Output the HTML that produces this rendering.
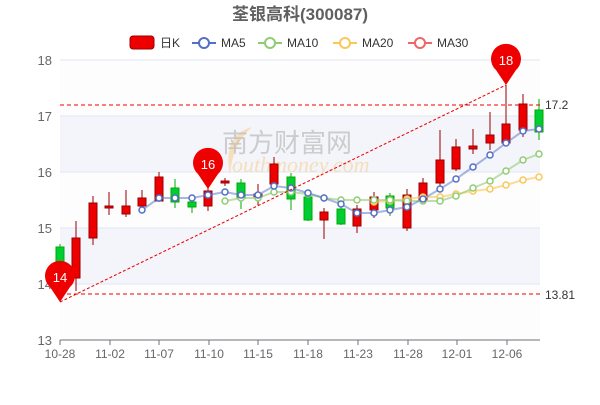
<!DOCTYPE html><html><head><meta charset="utf-8"><style>body{margin:0;background:#fff}svg{font-family:"Liberation Sans","Noto Sans CJK SC",sans-serif}</style></head><body>
<svg width="600" height="400" xmlns="http://www.w3.org/2000/svg">
<text x="300" y="20" text-anchor="middle" font-size="17" font-weight="bold" fill="#606060">荃银高科(300087)</text>
<g font-size="12" fill="#333">
<rect x="130" y="36" width="24" height="13" rx="3" fill="#e00" stroke="#900"/><text x="160" y="47">日K</text>
<line x1="192" y1="43" x2="216" y2="43" stroke="#5470c6" stroke-width="2"/><circle cx="204" cy="43" r="5" fill="#fff" stroke="#5470c6" stroke-width="2"/><text x="221" y="47">MA5</text>
<line x1="258" y1="43" x2="282" y2="43" stroke="#91cc75" stroke-width="2"/><circle cx="270" cy="43" r="5" fill="#fff" stroke="#91cc75" stroke-width="2"/><text x="287" y="47">MA10</text>
<line x1="333" y1="43" x2="357" y2="43" stroke="#fac858" stroke-width="2"/><circle cx="345" cy="43" r="5" fill="#fff" stroke="#fac858" stroke-width="2"/><text x="362" y="47">MA20</text>
<line x1="408" y1="43" x2="432" y2="43" stroke="#ee6666" stroke-width="2"/><circle cx="420" cy="43" r="5" fill="#fff" stroke="#ee6666" stroke-width="2"/><text x="437" y="47">MA30</text>
</g>
<rect x="60" y="60" width="480" height="56" fill="#fdfdfe"/><rect x="60" y="116" width="480" height="56" fill="#f4f5fa"/><rect x="60" y="172" width="480" height="56" fill="#fdfdfe"/><rect x="60" y="228" width="480" height="56" fill="#f4f5fa"/><rect x="60" y="284" width="480" height="56" fill="#fdfdfe"/>
<g stroke="#e0e6f1"><line x1="60" y1="60" x2="540" y2="60"/><line x1="60" y1="116" x2="540" y2="116"/><line x1="60" y1="172" x2="540" y2="172"/><line x1="60" y1="228" x2="540" y2="228"/><line x1="60" y1="284" x2="540" y2="284"/></g>
<line x1="60" y1="340" x2="540" y2="340" stroke="#6e7079"/>
<g font-size="13" fill="#666" text-anchor="end"><text x="52" y="65">18</text><text x="52" y="121">17</text><text x="52" y="177">16</text><text x="52" y="233">15</text><text x="52" y="289">14</text><text x="52" y="345">13</text></g>
<g font-size="12" fill="#666" text-anchor="middle"><text x="60" y="358">10-28</text><text x="110" y="358">11-02</text><text x="159" y="358">11-07</text><text x="209" y="358">11-10</text><text x="258" y="358">11-15</text><text x="308" y="358">11-18</text><text x="358" y="358">11-23</text><text x="408" y="358">11-28</text><text x="457" y="358">12-01</text><text x="507" y="358">12-06</text></g>
<g stroke="#6e7079"><line x1="60" y1="340" x2="60" y2="345"/><line x1="110" y1="340" x2="110" y2="345"/><line x1="159" y1="340" x2="159" y2="345"/><line x1="209" y1="340" x2="209" y2="345"/><line x1="258" y1="340" x2="258" y2="345"/><line x1="308" y1="340" x2="308" y2="345"/><line x1="358" y1="340" x2="358" y2="345"/><line x1="408" y1="340" x2="408" y2="345"/><line x1="457" y1="340" x2="457" y2="345"/><line x1="507" y1="340" x2="507" y2="345"/></g>
<path d="M252 127 Q222 135 230 175 Q232 145 252 127 Z" fill="#f5d9b0" opacity="0.8"/>
<text x="222" y="152" font-size="26" fill="#bbb" opacity="0.7">南方财富网</text>
<text x="232" y="172" font-size="22" font-style="italic" fill="#f5d9b0" opacity="0.8" font-family="Liberation Serif,serif">outhmoney.com</text>
<g stroke-width="1">
<line x1="60" y1="244" x2="60" y2="292" stroke="#0a0"/><rect x="56" y="247" width="8" height="38" fill="#0c3" stroke="#0a0"/>
<line x1="76" y1="221" x2="76" y2="291" stroke="#900"/><rect x="72" y="238" width="8" height="40" fill="#e00" stroke="#900"/>
<line x1="93" y1="196" x2="93" y2="245" stroke="#900"/><rect x="89" y="203" width="8" height="35" fill="#e00" stroke="#900"/>
<line x1="109" y1="192" x2="109" y2="215" stroke="#900"/><rect x="105" y="206" width="8" height="2" fill="#e00" stroke="#900"/>
<line x1="126" y1="190" x2="126" y2="217" stroke="#900"/><rect x="122" y="206" width="8" height="8" fill="#e00" stroke="#900"/>
<line x1="142" y1="190" x2="142" y2="210" stroke="#900"/><rect x="138" y="198" width="8" height="8" fill="#e00" stroke="#900"/>
<line x1="159" y1="172" x2="159" y2="202" stroke="#900"/><rect x="155" y="177" width="8" height="24" fill="#e00" stroke="#900"/>
<line x1="175" y1="179" x2="175" y2="208" stroke="#0a0"/><rect x="171" y="188" width="8" height="14" fill="#0c3" stroke="#0a0"/>
<line x1="192" y1="199" x2="192" y2="213" stroke="#0a0"/><rect x="188" y="202" width="8" height="5" fill="#0c3" stroke="#0a0"/>
<line x1="208" y1="186" x2="208" y2="211" stroke="#900"/><rect x="204" y="191" width="8" height="15" fill="#e00" stroke="#900"/>
<line x1="225" y1="178" x2="225" y2="186" stroke="#900"/><rect x="221" y="181" width="8" height="2" fill="#e00" stroke="#900"/>
<line x1="241" y1="179" x2="241" y2="209" stroke="#0a0"/><rect x="237" y="183" width="8" height="15" fill="#0c3" stroke="#0a0"/>
<line x1="258" y1="184" x2="258" y2="205" stroke="#900"/><rect x="254" y="194" width="8" height="3" fill="#e00" stroke="#900"/>
<line x1="274" y1="157" x2="274" y2="187" stroke="#900"/><rect x="270" y="164" width="8" height="20" fill="#e00" stroke="#900"/>
<line x1="291" y1="173" x2="291" y2="210" stroke="#0a0"/><rect x="287" y="177" width="8" height="22" fill="#0c3" stroke="#0a0"/>
<line x1="308" y1="195" x2="308" y2="221" stroke="#0a0"/><rect x="304" y="197" width="8" height="23" fill="#0c3" stroke="#0a0"/>
<line x1="324" y1="208" x2="324" y2="239" stroke="#900"/><rect x="320" y="212" width="8" height="8" fill="#e00" stroke="#900"/>
<line x1="341" y1="207" x2="341" y2="225" stroke="#0a0"/><rect x="337" y="209" width="8" height="15" fill="#0c3" stroke="#0a0"/>
<line x1="357" y1="205" x2="357" y2="233" stroke="#900"/><rect x="353" y="209" width="8" height="17" fill="#e00" stroke="#900"/>
<line x1="374" y1="192" x2="374" y2="218" stroke="#900"/><rect x="370" y="197" width="8" height="13" fill="#e00" stroke="#900"/>
<line x1="390" y1="193" x2="390" y2="216" stroke="#0a0"/><rect x="386" y="196" width="8" height="12" fill="#0c3" stroke="#0a0"/>
<line x1="407" y1="189" x2="407" y2="231" stroke="#900"/><rect x="403" y="195" width="8" height="33" fill="#e00" stroke="#900"/>
<line x1="423" y1="178" x2="423" y2="203" stroke="#900"/><rect x="419" y="183" width="8" height="17" fill="#e00" stroke="#900"/>
<line x1="440" y1="130" x2="440" y2="186" stroke="#900"/><rect x="436" y="160" width="8" height="23" fill="#e00" stroke="#900"/>
<line x1="456" y1="139" x2="456" y2="171" stroke="#900"/><rect x="452" y="147" width="8" height="22" fill="#e00" stroke="#900"/>
<line x1="473" y1="129" x2="473" y2="154" stroke="#900"/><rect x="469" y="146" width="8" height="3" fill="#e00" stroke="#900"/>
<line x1="490" y1="112" x2="490" y2="150" stroke="#900"/><rect x="486" y="135" width="8" height="8" fill="#e00" stroke="#900"/>
<line x1="506" y1="85" x2="506" y2="145" stroke="#900"/><rect x="502" y="124" width="8" height="19" fill="#e00" stroke="#900"/>
<line x1="523" y1="94" x2="523" y2="137" stroke="#900"/><rect x="519" y="104" width="8" height="26" fill="#e00" stroke="#900"/>
<line x1="539" y1="99" x2="539" y2="140" stroke="#0a0"/><rect x="535" y="110" width="8" height="22" fill="#0c3" stroke="#0a0"/>
</g>
<g fill="#fff" stroke-width="1.5">
<polyline fill="none" stroke="#fac858" stroke-opacity="0.6" stroke-width="2" points="374,202 390,201 407,199 423,197 440,197 456,194 473,191 490,189 506,185 523,180 539,177"/>
<polyline fill="none" stroke="#91cc75" stroke-opacity="0.6" stroke-width="2" points="225,201 241,198 258,198 274,192 291,192 308,194 324,198 341,200 357,200 374,200 390,200 407,201 423,201 440,201 456,196 473,188 490,181 506,171 523,160 539,154"/>
<polyline fill="none" stroke="#5470c6" stroke-opacity="0.5" stroke-width="2" points="142,210 159,198 175,198 192,198 208,195 225,192 241,195 258,195 274,186 291,188 308,193 324,198 341,204 357,213 374,213 390,210 407,207 423,199 440,189 456,179 473,167 490,155 506,143 523,131 539,129"/>
</g>
<g fill="#fff" stroke-width="1.5" stroke="#fac858"><circle cx="374" cy="202" r="3"/><circle cx="390" cy="201" r="3"/><circle cx="407" cy="199" r="3"/><circle cx="423" cy="197" r="3"/><circle cx="440" cy="197" r="3"/><circle cx="456" cy="194" r="3"/><circle cx="473" cy="191" r="3"/><circle cx="490" cy="189" r="3"/><circle cx="506" cy="185" r="3"/><circle cx="523" cy="180" r="3"/><circle cx="539" cy="177" r="3"/></g>
<g fill="#fff" stroke-width="1.5" stroke="#91cc75"><circle cx="225" cy="201" r="3"/><circle cx="241" cy="198" r="3"/><circle cx="258" cy="198" r="3"/><circle cx="274" cy="192" r="3"/><circle cx="291" cy="192" r="3"/><circle cx="308" cy="194" r="3"/><circle cx="324" cy="198" r="3"/><circle cx="341" cy="200" r="3"/><circle cx="357" cy="200" r="3"/><circle cx="374" cy="200" r="3"/><circle cx="390" cy="200" r="3"/><circle cx="407" cy="201" r="3"/><circle cx="423" cy="201" r="3"/><circle cx="440" cy="201" r="3"/><circle cx="456" cy="196" r="3"/><circle cx="473" cy="188" r="3"/><circle cx="490" cy="181" r="3"/><circle cx="506" cy="171" r="3"/><circle cx="523" cy="160" r="3"/><circle cx="539" cy="154" r="3"/></g>
<g fill="#fff" stroke-width="1.5" stroke="#5470c6"><circle cx="142" cy="210" r="3"/><circle cx="159" cy="198" r="3"/><circle cx="175" cy="198" r="3"/><circle cx="192" cy="198" r="3"/><circle cx="208" cy="195" r="3"/><circle cx="225" cy="192" r="3"/><circle cx="241" cy="195" r="3"/><circle cx="258" cy="195" r="3"/><circle cx="274" cy="186" r="3"/><circle cx="291" cy="188" r="3"/><circle cx="308" cy="193" r="3"/><circle cx="324" cy="198" r="3"/><circle cx="341" cy="204" r="3"/><circle cx="357" cy="213" r="3"/><circle cx="374" cy="213" r="3"/><circle cx="390" cy="210" r="3"/><circle cx="407" cy="207" r="3"/><circle cx="423" cy="199" r="3"/><circle cx="440" cy="189" r="3"/><circle cx="456" cy="179" r="3"/><circle cx="473" cy="167" r="3"/><circle cx="490" cy="155" r="3"/><circle cx="506" cy="143" r="3"/><circle cx="523" cy="131" r="3"/><circle cx="539" cy="129" r="3"/></g>
<g stroke="#e00" stroke-dasharray="4,3" fill="none"><line x1="60" y1="105" x2="540" y2="105"/><line x1="60" y1="294" x2="540" y2="294"/></g>
<line x1="60" y1="302" x2="506" y2="85" stroke="#e00" stroke-dasharray="3,2"/>
<g font-size="12" fill="#333"><text x="545" y="109">17.2</text><text x="545" y="299">13.81</text></g>
<g fill="#e00" font-size="13" text-anchor="middle">
<path d="M60 302 L50 287 A15 15 0 1 1 70 287 Z"/><text x="60" y="282" fill="#fff">14</text>
<path d="M208 189 L198 174 A15 15 0 1 1 218 174 Z"/><text x="208" y="169" fill="#fff">16</text>
<path d="M506 85 L496 70 A15 15 0 1 1 516 70 Z"/><text x="506" y="65" fill="#fff">18</text>
</g>
</svg></body></html>
